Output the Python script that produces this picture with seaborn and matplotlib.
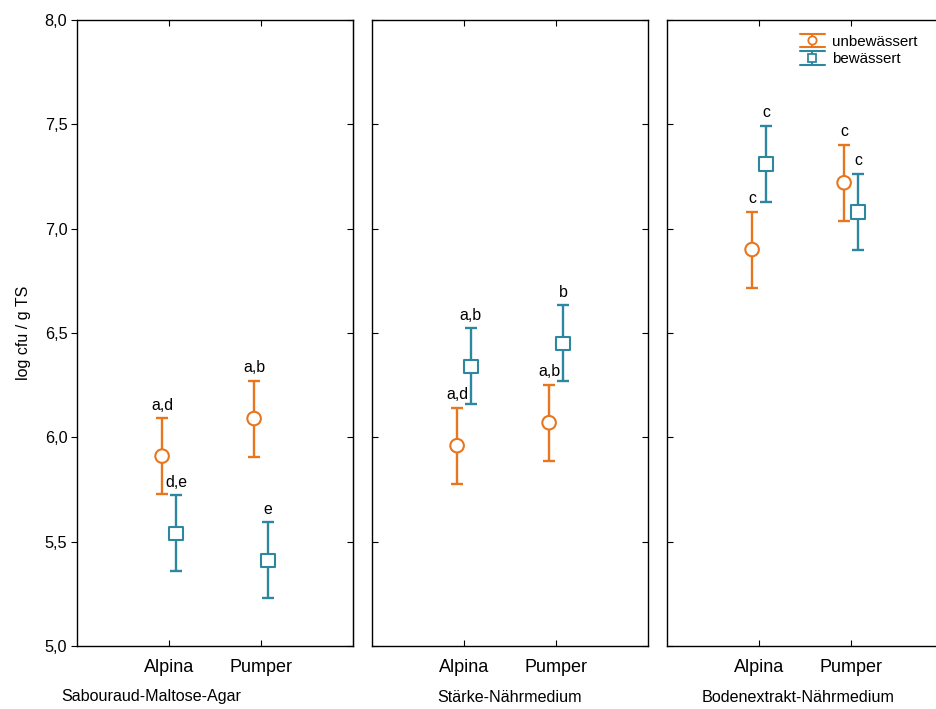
import matplotlib
matplotlib.use("Agg")
import matplotlib.pyplot as plt
import matplotlib.ticker as mticker
from matplotlib.lines import Line2D
import pandas as pd
import seaborn as sns

media = ["Sabouraud-Maltose-Agar", "Stärke-Nährmedium", "Bodenextrakt-Nährmedium"]
sites = ["Alpina", "Pumper"]
groups = ["unbewässert", "bewässert"]

unbew_mean = [[5.91, 6.09], [5.96, 6.07], [6.90, 7.22]]
bew_mean = [[5.54, 5.41], [6.34, 6.45], [7.31, 7.08]]
unbew_err = [[0.182, 0.182], [0.182, 0.182], [0.182, 0.182]]
bew_err = [[0.182, 0.182], [0.182, 0.182], [0.182, 0.182]]
unbew_letters = [["a,d", "a,b"], ["a,d", "a,b"], ["c", "c"]]
bew_letters = [["d,e", "e"], ["a,b", "b"], ["c", "c"]]

sns.set_style("ticks")
plt.rcParams['font.family'] = ['Liberation Sans', 'DejaVu Sans']
plt.rcParams.update({'text.color': 'black', 'axes.labelcolor': 'black',
                     'xtick.color': 'black', 'ytick.color': 'black'})

colors = {"unbewässert": "#E8761E", "bewässert": "#2E87A0"}
markers = {"unbewässert": "o", "bewässert": "s"}
dodge = {"unbewässert": -0.075, "bewässert": 0.075}


class ErrKey:
    def __init__(self, color, marker):
        self.color = color
        self.marker = marker


class ErrKeyHandler:
    # legend key: vertical bar with wide caps and an open marker
    def legend_artist(self, legend, orig, fontsize, handlebox):
        x0, y0 = -handlebox.xdescent, -handlebox.ydescent
        w, h = handlebox.width, handlebox.height
        cx, cy = x0 + w / 2, y0 + h / 2
        half = 4.8
        tr = handlebox.get_transform()
        arts = [
            Line2D([cx, cx], [cy - half, cy + half], color=orig.color, lw=1.5, transform=tr),
            Line2D([x0, x0 + w], [cy + half] * 2, color=orig.color, lw=1.5, transform=tr),
            Line2D([x0, x0 + w], [cy - half] * 2, color=orig.color, lw=1.5, transform=tr),
            Line2D([cx], [cy], marker=orig.marker, ms=6, mfc="white", mec=orig.color,
                   mew=1.3, ls="none", transform=tr),
        ]
        for a in arts:
            handlebox.add_artist(a)
        return arts[0]


rows = []
for m, med in enumerate(media):
    for s, site in enumerate(sites):
        rows.append(dict(medium=med, site=site, pos=s, group="unbewässert",
                         mean=unbew_mean[m][s], err=unbew_err[m][s], letter=unbew_letters[m][s]))
        rows.append(dict(medium=med, site=site, pos=s, group="bewässert",
                         mean=bew_mean[m][s], err=bew_err[m][s], letter=bew_letters[m][s]))
df = pd.DataFrame(rows)
df["x"] = df["pos"] + df["group"].map(dodge)

fig = plt.figure(figsize=(9.36, 7.09), dpi=100)
W, H = 936, 709
lefts = [77, 372, 667]
pw = 276
top, bottom = 20, 646
label_x = [151, 510, 798]

axes = []
for i, med in enumerate(media):
    ax = fig.add_axes([lefts[i] / W, 1 - bottom / H, pw / W, (bottom - top) / H])
    axes.append(ax)
    sub = df[df["medium"] == med]
    for g in groups:
        d = sub[sub["group"] == g]
        ax.errorbar(d["x"], d["mean"], yerr=d["err"], fmt="none", ecolor=colors[g],
                    elinewidth=1.7, capsize=4.5, capthick=1.7, zorder=2)
    sns.scatterplot(data=sub, x="x", y="mean", hue="group", style="group",
                    palette=colors, markers=markers, hue_order=groups,
                    s=95, linewidth=1.5, ax=ax, legend=False, zorder=3)
    # open markers: edges in group colour, white faces
    for coll in ax.collections:
        fc = coll.get_facecolors()
        if len(fc):
            coll.set_edgecolors(fc)
            coll.set_facecolors("white")
    for _, r in sub.iterrows():
        ax.annotate(r["letter"], (r["x"], r["mean"] + r["err"]), xytext=(0, 4),
                    textcoords="offset points", ha="center", va="bottom", fontsize=11.4)
    ax.set_xlim(-1, 2)
    ax.set_ylim(5.0, 8.0)
    ax.set_xticks(range(len(sites)))
    ax.set_xticklabels(sites, fontsize=13)
    ax.yaxis.set_major_locator(mticker.MultipleLocator(0.5))
    ax.yaxis.set_major_formatter(mticker.FuncFormatter(lambda v, p: f"{v:.1f}".replace(".", ",")))
    ax.set_xlabel("")
    ax.set_ylabel("")
    for sp in ax.spines.values():
        sp.set_visible(True)
        sp.set_linewidth(1.0)
        sp.set_color("black")
    ax.tick_params(axis="x", direction="in", top=True, bottom=True, length=4, pad=9)
    if i == 0:
        ax.tick_params(axis="y", left=True, right=False, direction="out",
                       length=4, labelsize=11.7, pad=3)
        ax2 = ax.secondary_yaxis("right")
        ax2.yaxis.set_major_locator(mticker.MultipleLocator(0.5))
        ax2.tick_params(axis="y", direction="in", length=4, labelright=False)
    else:
        ax.tick_params(axis="y", direction="in", left=True, right=True, length=4,
                       labelleft=False)
    fig.text(label_x[i] / W, 1 - 697 / H, med, ha="center", va="center", fontsize=11.6)

axes[0].set_ylabel("log cfu / g TS", fontsize=11.5, labelpad=10)

keys = [ErrKey(colors[g], markers[g]) for g in groups]
axes[2].legend(keys, groups, loc="upper left", bbox_to_anchor=(792 / W, 1 - 27 / H),
               bbox_transform=fig.transFigure, frameon=False, fontsize=10.9,
               handlelength=1.7, handletextpad=0.45, labelspacing=0.25, borderpad=0,
               handler_map={ErrKey: ErrKeyHandler()})

fig.savefig("out.png", dpi=100)
